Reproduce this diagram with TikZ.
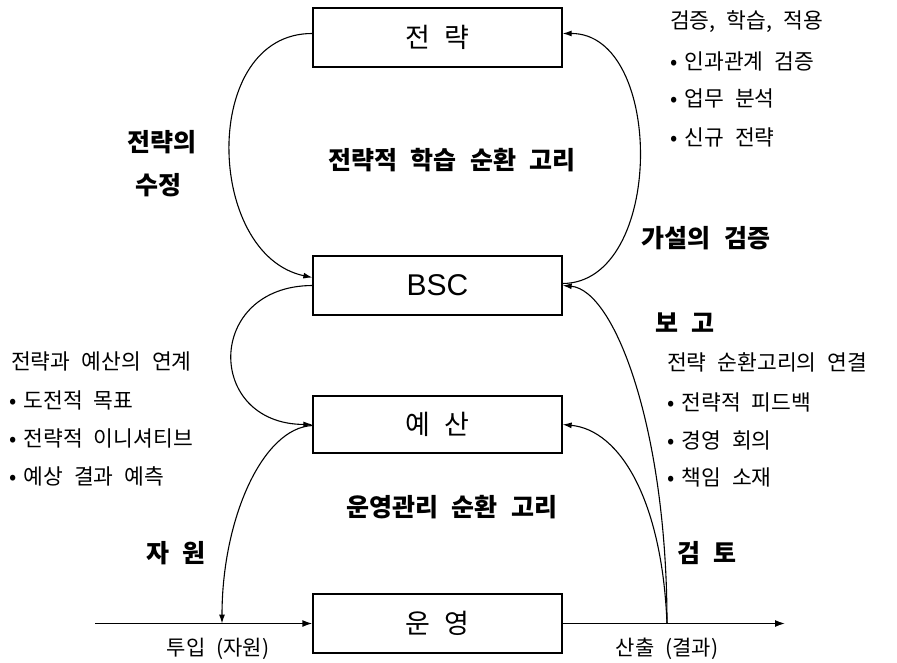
\documentclass[tikz,border=0pt]{standalone}
\usepackage{fontspec}
\setmainfont{Noto Sans CJK KR}[WordSpace=2.3]
\newfontfamily\latinsans{Liberation Sans}
\usetikzlibrary{arrows.meta}

\newcommand{\itemdot}{•\hspace{7pt}}

\tikzset{
  stage/.style={draw, line width=1.3pt, minimum width=249pt, minimum height=59pt,
    inner sep=0pt, font=\fontsize{27}{30}\selectfont},
  loop/.style={line width=1.1pt, -{Latex[length=9pt,width=6pt]}},
  flow/.style={line width=1.4pt},
  note/.style={anchor=west, inner sep=0pt, font=\fontsize{21.5}{24}\selectfont},
  head/.style={inner sep=0pt, font=\bfseries\fontsize{25}{28}\selectfont},
  io/.style={inner sep=0pt, font=\fontsize{21}{23}\selectfont},
}

\begin{document}
\begin{tikzpicture}[x=1pt, y=-1pt]
\useasboundingbox (0,0) rectangle (897,663);

% the four stages
\node[stage] (strat)  at (437.5,37.5)  {전 략};
\node[stage] (bsc)    at (437.5,285.5) {\latinsans\fontsize{30}{32}\selectfont BSC};
\node[stage, minimum height=57pt] (budget) at (437.5,424.5) {예 산};
\node[stage] (ops)    at (437.5,623.5) {운 영};

% input / output line through operations
\coordinate (inbeg)  at (95,623.5);
\coordinate (outend) at (785,623.5);
\coordinate (resin)  at (222,623.5);
\coordinate (resout) at (667,623.5);
\draw[flow, -{Latex[length=10pt,width=7pt]}] (inbeg) -- (ops.west);
\draw[flow, -{Latex[length=10pt,width=7pt]}] (ops.east) -- (outend);

% strategic learning loop
\draw[loop] ([yshift=4pt]strat.west) .. controls (200,33) and (205,255) .. ([yshift=8pt]bsc.west);
\draw[loop] ([yshift=2pt]bsc.east) .. controls (665,283) and (665,33) .. ([yshift=4pt]strat.east);

% operational loop
\draw[loop] (bsc.west) .. controls (205,286) and (205,424) .. (budget.west);
\draw[loop] ([yshift=-1pt]budget.west) .. controls (262,428) and (222,520) .. (resin);
\draw[loop] (resout) .. controls (667,430) and (615,290) .. (bsc.east);
\draw[loop] (resout) .. controls (662,500) and (620,430) .. (budget.east);

% loop titles
\node[head] (t1) at (452,160) {전략적 학습 순환 고리};
\node[head] (t2) at (452,507) {운영관리 순환 고리};

% connector labels
\node[head] (l1a) at (162,142) {전략의};
\node[head] (l1b) at (158,185) {수정};
\node[head] (l2)  at (706,238) {가설의 검증};
\node[head, anchor=west] (l3) at (655,323) {보 고};
\node[head] (l4)  at (176,553) {자 원};
\node[head] (l5)  at (707,553) {검 토};

% notes on the right, top
\node[note] (n1)  at (670,22)  {검증, 학습, 적용};
\node[note] (n1a) at (670,61)  {\itemdot 인과관계 검증};
\node[note] (n1b) at (670,98)  {\itemdot 업무 분석};
\node[note] (n1c) at (670,137) {\itemdot 신규 전략};

% notes on the right, middle
\node[note] (n2)  at (667,362) {전략 순환고리의 연결};
\node[note] (n2a) at (667,402) {\itemdot 전략적 피드백};
\node[note] (n2b) at (667,440) {\itemdot 경영 회의};
\node[note] (n2c) at (667,477) {\itemdot 책임 소재};

% notes on the left
\node[note] (n3)  at (11,361) {전략과 예산의 연계};
\node[note] (n3a) at (9,400)  {\itemdot 도전적 목표};
\node[note] (n3b) at (9,438)  {\itemdot 전략적 이니셔티브};
\node[note] (n3c) at (9,476)  {\itemdot 예상 결과 예측};

% input and output
\node[io] (inl)  at (218,649) {투입 (자원)};
\node[io] (outl) at (667,649) {산출 (결과)};
\end{tikzpicture}
\end{document}
